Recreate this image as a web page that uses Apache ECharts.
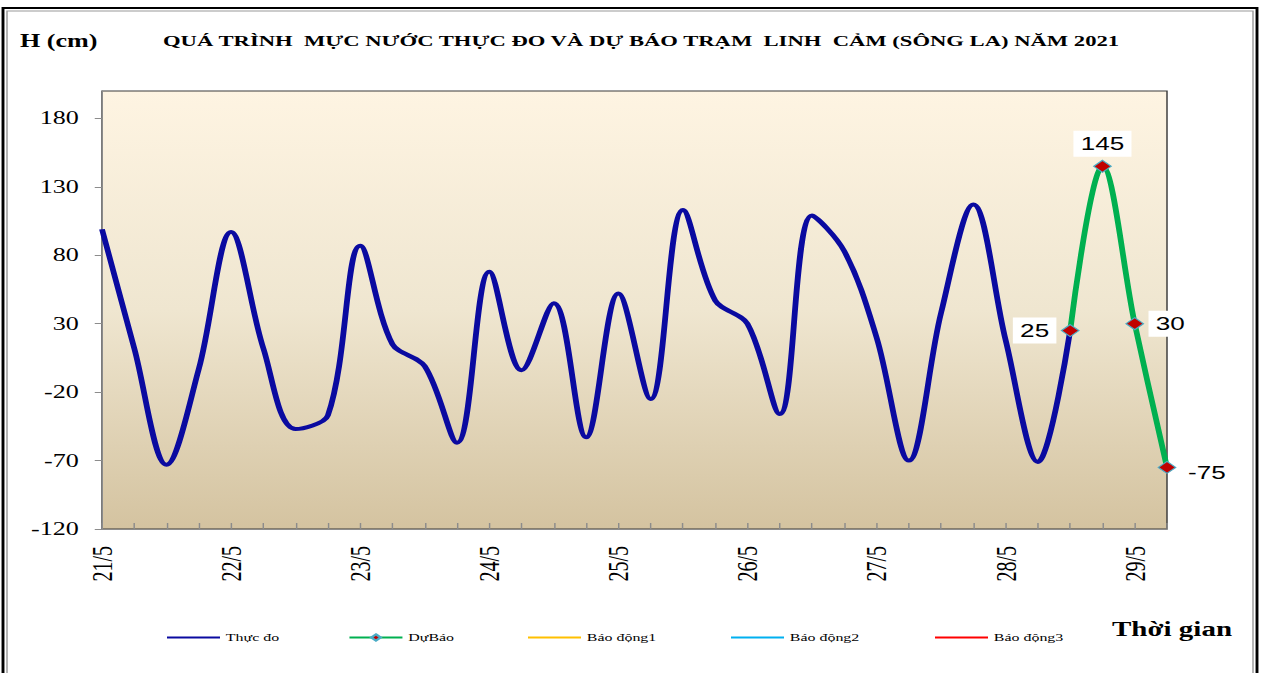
<!DOCTYPE html>
<html>
<head>
<meta charset="utf-8">
<title>Mực nước Linh Cảm 2021</title>
<script src="https://cdn.jsdelivr.net/npm/echarts@6/dist/echarts.min.js"></script>
<style>
  html, body { margin: 0; padding: 0; background: #fff; overflow: hidden; }
  /* the original Excel picture is stretched sideways, so draw narrow and scale */
  #chart { width: 872px; height: 673px; transform: scaleX(1.45069); transform-origin: 0 0; }
</style>
</head>
<body>
<div id="chart"></div>
<script>
// ngày và giờ quan trắc (4 lần / ngày)
const days = ['21/5', '22/5', '23/5', '24/5', '25/5', '26/5', '27/5', '28/5', '29/5'];
const hours = ['1h', '7h', '13h', '19h'];
const nPoints = 34;

// mực nước thực đo (cm)
const thucDo = [99, 12, -73, -3, 97, 12, -47, -37, 87, 15, -1, -57,
  68, -4, 45, -53, 52, -25, 113, 47, 30, -36, 109, 83, 20, -70, 38, 117, 18, -71, 25];
// mực nước dự báo (cm), nối tiếp điểm cuối thực đo
const duBao = [25, 145, 30, -75];

const yMin = -120, yMax = 200, yStep = 50;

const S = 1265 / 872;           // horizontal stretch of the page
const px = x => x / S;          // reference x -> chart x

const categories = [];
days.forEach(d => hours.forEach(h => categories.push(d + ' ' + h)));
categories.length = nPoints;

const duBaoFull = Array(thucDo.length - 1).fill(null).concat(duBao);
const labelSide = ['left', 'top', 'right', 'right'];
const labelShift = [[0, 0], [0, 0], [0, 0], [0, 6]];
const duBaoData = duBaoFull.map((v, i) => {
  if (v === null) return null;
  const k = i - (thucDo.length - 1);
  return { value: v, label: { position: labelSide[k], offset: labelShift[k] } };
});

const serif = "'Liberation Serif', 'DejaVu Serif', serif";
const sans = "'Liberation Sans', Arial, sans-serif";

const chart = echarts.init(document.getElementById('chart'), null, { renderer: 'svg' });

chart.setOption({
  backgroundColor: '#fff',
  animation: false,
  title: [
    {
      text: 'H (cm)', left: px(20), top: 32, padding: 0,
      textStyle: { fontFamily: serif, fontSize: 18, fontWeight: 'bold', color: '#000' }
    },
    {
      text: 'QUÁ TRÌNH  MỰC NƯỚC THỰC ĐO VÀ DỰ BÁO TRẠM  LINH  CẢM (SÔNG LA) NĂM 2021',
      left: px(163), top: 33, padding: 0,
      textStyle: { fontFamily: serif, fontSize: 15.6, fontWeight: 'bold', color: '#000' }
    },
    {
      text: 'Thời gian', left: px(1112), top: 619, padding: 0,
      textStyle: { fontFamily: serif, fontSize: 20, fontWeight: 'bold', color: '#000' }
    }
  ],
  graphic: [
    {
      type: 'rect', silent: true,
      shape: { x: px(3), y: 8, width: px(1254), height: 700 },
      style: { fill: 'none', stroke: '#000', lineWidth: 2 }
    },
    {
      type: 'rect', silent: true,
      shape: { x: px(7), y: 11, width: px(1246), height: 700 },
      style: { fill: 'none', stroke: '#9a9a9a', lineWidth: 1 }
    }
  ],
  legend: [
    { name: 'Thực đo', x: 167, plain: true },
    { name: 'DựBáo', x: 348, plain: false },
    { name: 'Báo động1', x: 528, plain: true },
    { name: 'Báo động2', x: 731, plain: true },
    { name: 'Báo động3', x: 935, plain: true }
  ].map(l => ({
    data: [l.name],
    left: px(l.x),
    top: 632,
    padding: 0,
    icon: l.plain ? 'rect' : undefined,
    itemWidth: px(53),
    itemHeight: l.plain ? 2 : 8,
    itemGap: 0,
    selectedMode: false,
    lineStyle: { width: 2 },
    textStyle: { fontFamily: serif, fontSize: 11, color: '#000', padding: [0, 0, 0, -1] }
  })),
  grid: {
    left: px(102),
    right: px(1265 - 1167),
    top: 91,
    bottom: 673 - 529,
    show: true,
    borderColor: '#3a3a3a',
    borderWidth: 1,
    backgroundColor: new echarts.graphic.LinearGradient(0, 0, 0, 1, [
      { offset: 0, color: '#FEF4E2' },
      { offset: 0.5, color: '#EFE6D0' },
      { offset: 1, color: '#D4C3A0' }
    ])
  },
  xAxis: {
    type: 'category',
    data: categories,
    boundaryGap: false,
    axisLine: { onZero: false, lineStyle: { color: '#8c8c8c', width: 1 } },
    axisTick: { show: true, inside: true, interval: 0, length: 6, lineStyle: { color: '#8c8c8c' } },
    axisLabel: {
      interval: 3,
      rotate: 90,
      margin: 17,
      fontFamily: serif,
      fontSize: 20,
      color: '#000',
      formatter: v => v.split(' ')[0]
    },
    splitLine: { show: false }
  },
  yAxis: {
    type: 'value',
    min: yMin,
    max: yMax,
    interval: yStep,
    axisLine: { show: true, lineStyle: { color: '#8c8c8c' } },
    axisTick: { show: true, length: 5, lineStyle: { color: '#8c8c8c' } },
    axisLabel: {
      margin: 16,
      fontFamily: serif,
      fontSize: 18,
      color: '#000',
      showMaxLabel: false
    },
    splitLine: { show: false }
  },
  series: [
    {
      name: 'Thực đo',
      type: 'line',
      data: thucDo,
      smooth: 0.35,
      symbol: 'none',
      z: 3,
      lineStyle: { color: '#0A0AA0', width: 4 },
      itemStyle: { color: '#0A0AA0' }
    },
    {
      name: 'DựBáo',
      type: 'line',
      data: duBaoData,
      smooth: 0.35,
      symbol: 'diamond',
      symbolSize: [12, 12],
      showAllSymbol: true,
      z: 4,
      lineStyle: { color: '#00B050', width: 4 },
      itemStyle: { color: '#C00000', borderColor: '#4BACC6', borderWidth: 1 },
      label: {
        show: true,
        distance: 3,
        fontFamily: sans,
        fontSize: 18,
        color: '#000',
        backgroundColor: '#fff',
        padding: [4, 5]
      }
    },
    {
      name: 'Báo động1', type: 'line', data: [], symbol: 'none',
      lineStyle: { color: '#FFC000', width: 2 }, itemStyle: { color: '#FFC000' }
    },
    {
      name: 'Báo động2', type: 'line', data: [], symbol: 'none',
      lineStyle: { color: '#00B0F0', width: 2 }, itemStyle: { color: '#00B0F0' }
    },
    {
      name: 'Báo động3', type: 'line', data: [], symbol: 'none',
      lineStyle: { color: '#FF0000', width: 2 }, itemStyle: { color: '#FF0000' }
    }
  ]
});
</script>
</body>
</html>
